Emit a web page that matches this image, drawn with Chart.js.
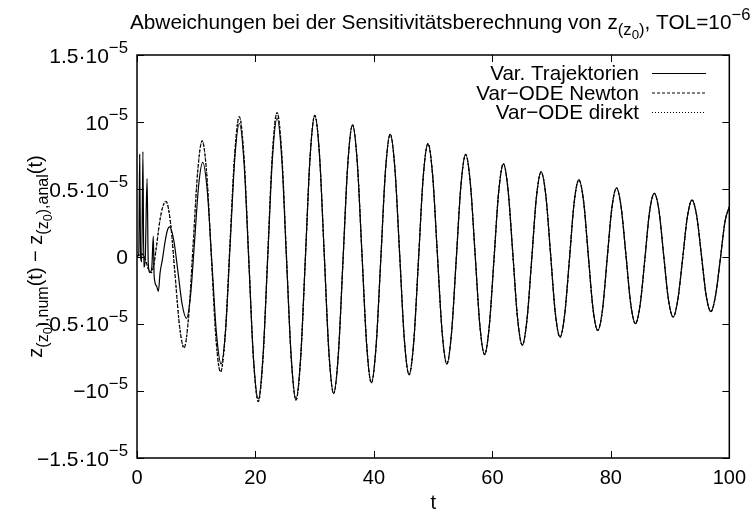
<!DOCTYPE html>
<html>
<head>
<meta charset="utf-8">
<script src="https://cdn.jsdelivr.net/npm/chart.js@4"></script>
<style>
  html, body { margin: 0; padding: 0; background: #fff; }
  #chart { display: block; }
</style>
</head>
<body>
<canvas id="chart" width="754" height="521"></canvas>
<script>
// values in units of 1e-5
const tTraj = [0, 0.3, 0.45, 0.6, 0.8, 1.0, 1.15, 1.4, 1.7, 1.9, 2.2, 2.5, 2.75, 2.9, 3.3, 3.6, 3.9, 4.3, 4.7, 5.1,
  5.5, 6.21, 6.93, 7.64, 8.35, 9.04, 9.73, 10.41, 11.1, 11.88, 12.65, 13.43, 14.2, 14.97, 15.74, 16.51,
  17.28, 18.08, 18.88, 19.67, 20.47, 21.26, 22.06, 22.85, 23.65, 24.45, 25.24, 26.04, 26.84, 27.63, 28.43, 29.22];
const vTraj = [0, 0.02, 0.76, 0.0, -0.04, 0.78, -0.08, 0.0, 0.58, -0.05, -0.12, -0.08, 0.15, -0.15, -0.22, -0.26, -0.12, -0.02, 0.10, 0.19,
  0.22, 0.12, -0.12, -0.36, -0.46, -0.29, 0.12, 0.53, 0.70, 0.48, -0.05, -0.58, -0.80, -0.54, 0.10, 0.73,
  0.99, 0.69, -0.04, -0.76, -1.06, -0.75, -0.02, 0.72, 1.03, 0.72, -0.02, -0.75, -1.06, -0.75, -0.01, 0.74];

const tOde = [0, 0.4, 0.8, 1.2, 1.6, 2.0, 2.4, 2.8, 3.3, 3.8, 4.35, 4.9, 5.66, 6.43, 7.19, 7.95, 8.71, 9.48, 10.24, 11.0,
  11.78, 12.55, 13.33, 14.1, 14.9, 15.69, 16.49, 17.28, 18.08, 18.88, 19.67, 20.47, 21.26, 22.06, 22.85,
  23.65, 24.45, 25.24, 26.04, 26.84, 27.63, 28.43, 29.22];
const vOde = [0, 0.01, 0.02, 0.0, -0.05, -0.10, -0.12, -0.07, 0.08, 0.25, 0.37, 0.41, 0.25, -0.14, -0.52, -0.68, -0.45, 0.09, 0.63, 0.86,
  0.61, 0.0, -0.61, -0.86, -0.58, 0.09, 0.76, 1.04, 0.73, -0.02, -0.77, -1.08, -0.77, 0.0, 0.76,
  1.07, 0.76, 0.0, -0.76, -1.07, -0.76, -0.01, 0.74];

// from t=30 on all three curves lie on top of each other
const tMain = [30.02, 30.82, 31.61, 32.41, 33.2, 33.99, 34.79, 35.59, 36.39, 37.19, 37.98, 38.78,
  39.57, 40.36, 41.16, 41.95, 42.75, 43.55, 44.34, 45.14, 45.94, 46.73, 47.53, 48.32,
  49.12, 49.92, 50.71, 51.51, 52.31, 53.1, 53.9, 54.69, 55.49, 56.29, 57.08, 57.88,
  58.68, 59.47, 60.27, 61.06, 61.86, 62.66, 63.45, 64.25, 65.05, 65.84, 66.64, 67.43,
  68.23, 69.03, 69.82, 70.62, 71.42, 72.21, 73.01, 73.8, 74.6, 75.4, 76.19, 76.99,
  77.78, 78.58, 79.37, 80.17, 80.96, 81.76, 82.55, 83.35, 84.15, 84.94, 85.74, 86.53,
  87.33, 88.13, 88.92, 89.72, 90.52, 91.31, 92.11, 92.9, 93.7, 94.5, 95.29, 96.09,
  96.89, 97.68, 98.48, 99.27, 100];
const vMain = [1.05, 0.75, 0.02, -0.72, -1.02, -0.73, -0.02, 0.69, 0.98, 0.70, 0.02, -0.66,
  -0.94, -0.67, -0.02, 0.64, 0.91, 0.65, 0.02, -0.62, -0.88, -0.63, -0.02, 0.59,
  0.84, 0.60, 0.02, -0.56, -0.80, -0.57, -0.02, 0.53, 0.76, 0.54, 0.02, -0.51,
  -0.73, -0.52, -0.02, 0.48, 0.69, 0.49, 0.02, -0.46, -0.66, -0.47, -0.02, 0.44,
  0.63, 0.45, 0.02, -0.42, -0.60, -0.43, -0.02, 0.40, 0.57, 0.41, 0.01, -0.39,
  -0.55, -0.40, -0.02, 0.36, 0.51, 0.36, 0.01, -0.35, -0.50, -0.36, -0.02, 0.33,
  0.47, 0.34, 0.01, -0.32, -0.45, -0.32, -0.02, 0.29, 0.42, 0.30, 0.01, -0.29,
  -0.41, -0.29, -0.02, 0.26, 0.37];

const seriesNames = ["Var. Trajektorien", "Var\u2212ODE Newton", "Var\u2212ODE direkt"];
const xTicks = [0, 20, 40, 60, 80, 100];
// y tick labels: [mantissa text, exponent]
const yTickLabels = {
  "1.5": ["1.5\u00b710", "\u22125"], "1": ["10", "\u22125"], "0.5": ["0.5\u00b710", "\u22125"], "0": ["0", ""],
  "-0.5": ["\u22120.5\u00b710", "\u22125"], "-1": ["\u221210", "\u22125"], "-1.5": ["\u22121.5\u00b710", "\u22125"]
};

const FONT = '"Liberation Sans", Arial, Helvetica, sans-serif';

function pts(ts, vs) {
  return ts.map((t, i) => ({ x: t, y: vs[i] }));
}

// text with sub/superscripts: parts = [text, level]  0 normal, 1 sup, -1 sub, -2 subsub
const LEVELS = { "0": [20, 0], "1": [16, -9], "-1": [16, 6], "-2": [12.8, 10] };
function drawRich(ctx, parts, x, y, align, k) {
  k = k || 1;
  const fontOf = p => (LEVELS[p[1]][0] * k).toFixed(1) + "px " + FONT;
  let w = 0;
  parts.forEach(p => { ctx.font = fontOf(p); w += ctx.measureText(p[0]).width; });
  let cx = align === "right" ? x - w : align === "center" ? x - w / 2 : x;
  ctx.textAlign = "left";
  ctx.textBaseline = "alphabetic";
  parts.forEach(p => {
    ctx.font = fontOf(p);
    ctx.fillText(p[0], cx, y + LEVELS[p[1]][1] * k);
    cx += ctx.measureText(p[0]).width;
  });
}

const gnuplotDecor = {
  id: "gnuplotDecor",
  afterDraw(chart) {
    const ctx = chart.ctx;
    const a = chart.chartArea;
    const xs = chart.scales.x, ys = chart.scales.y;
    ctx.save();
    ctx.fillStyle = "#000";
    ctx.strokeStyle = "#000";

    // frame
    ctx.lineWidth = 1.5;
    ctx.setLineDash([]);
    ctx.strokeRect(a.left, a.top, a.right - a.left, a.bottom - a.top);

    // inward ticks, mirrored
    const tl = 7;
    ctx.lineWidth = 1;
    ctx.beginPath();
    xs.ticks.forEach(tk => {
      const px = Math.round(xs.getPixelForValue(tk.value)) + 0.5;
      ctx.moveTo(px, a.bottom); ctx.lineTo(px, a.bottom - tl);
      ctx.moveTo(px, a.top); ctx.lineTo(px, a.top + tl);
    });
    ys.ticks.forEach(tk => {
      const py = Math.round(ys.getPixelForValue(tk.value)) + 0.5;
      ctx.moveTo(a.left, py); ctx.lineTo(a.left + tl, py);
      ctx.moveTo(a.right, py); ctx.lineTo(a.right - tl, py);
    });
    ctx.stroke();

    // y tick labels
    ys.ticks.forEach(tk => {
      const lab = yTickLabels[String(Math.round(tk.value * 10) / 10)];
      if (!lab) return;
      const py = ys.getPixelForValue(tk.value);
      const parts = [[lab[0], 0]];
      if (lab[1]) parts.push([lab[1], 1]);
      drawRich(ctx, parts, a.left - 9, py + 7.5, "right", 1.05);
    });

    // title
    drawRich(ctx, [["Abweichungen bei der Sensitivit\u00e4tsberechnung von z", 0], ["(z", -1], ["0", -2], [")", -1],
      [", TOL=10", 0], ["\u22126", 1]], (a.left + a.right) / 2 + 7, 29, "center", 1.04);

    // y axis title
    ctx.save();
    ctx.translate(36, (a.top + a.bottom) / 2);
    ctx.rotate(-Math.PI / 2);
    drawRich(ctx, [["z", 0], ["(z", -1], ["0", -2], ["),num", -1], ["(t) \u2212 z", 0], ["(z", -1], ["0", -2],
      ["),anal", -1], ["(t)", 0]], 0, 6, "center");
    ctx.restore();

    // legend: text right aligned, sample line on the right
    chart.data.datasets.forEach((ds, i) => {
      const cy = 73 + i * 19.5;
      drawRich(ctx, [[ds.label, 0]], 639, cy + 7, "right", 1.03);
      ctx.beginPath();
      ctx.lineWidth = 1;
      ctx.setLineDash(ds.borderDash || []);
      ctx.moveTo(652, cy + 0.5);
      ctx.lineTo(706, cy + 0.5);
      ctx.stroke();
    });
    ctx.restore();
  }
};

const ctx = document.getElementById("chart").getContext("2d");
const chart = new Chart(ctx, {
  type: "line",
  data: {
    datasets: [
      { label: seriesNames[0], data: pts(tTraj, vTraj).concat(pts(tMain, vMain)), borderColor: "#000", borderWidth: 1.2, borderDash: [] },
      { label: seriesNames[1], data: pts(tOde, vOde).concat(pts(tMain, vMain)), borderColor: "#000", borderWidth: 1.2, borderDash: [3, 2] },
      { label: seriesNames[2], data: pts(tOde, vOde).concat(pts(tMain, vMain)), borderColor: "#000", borderWidth: 1.2, borderDash: [1, 2] }
    ]
  },
  options: {
    responsive: false,
    animation: false,
    devicePixelRatio: 1,
    layout: { padding: { top: 55, right: 22, left: 0, bottom: 0 } },
    elements: {
      point: { radius: 0 },
      line: { cubicInterpolationMode: "monotone", fill: false }
    },
    plugins: { legend: { display: false }, tooltip: { enabled: false }, title: { display: false } },
    scales: {
      x: {
        type: "linear", min: 0, max: 100,
        afterBuildTicks: s => { s.ticks = xTicks.map(v => ({ value: v })); },
        grid: { display: false, drawTicks: false },
        border: { display: false },
        ticks: { color: "#000", padding: 8, maxRotation: 0, font: { family: FONT, size: 20 } },
        title: { display: true, text: "t", color: "#000", font: { family: FONT, size: 20 }, padding: { top: 0, bottom: 6 } },
        afterFit: s => { s.height = 63; }
      },
      y: {
        type: "linear", min: -1.5, max: 1.5,
        ticks: { stepSize: 0.5, display: false },
        grid: { display: false, drawTicks: false },
        border: { display: false },
        afterFit: s => { s.width = 137; }
      }
    }
  },
  plugins: [gnuplotDecor]
});
</script>
</body>
</html>
